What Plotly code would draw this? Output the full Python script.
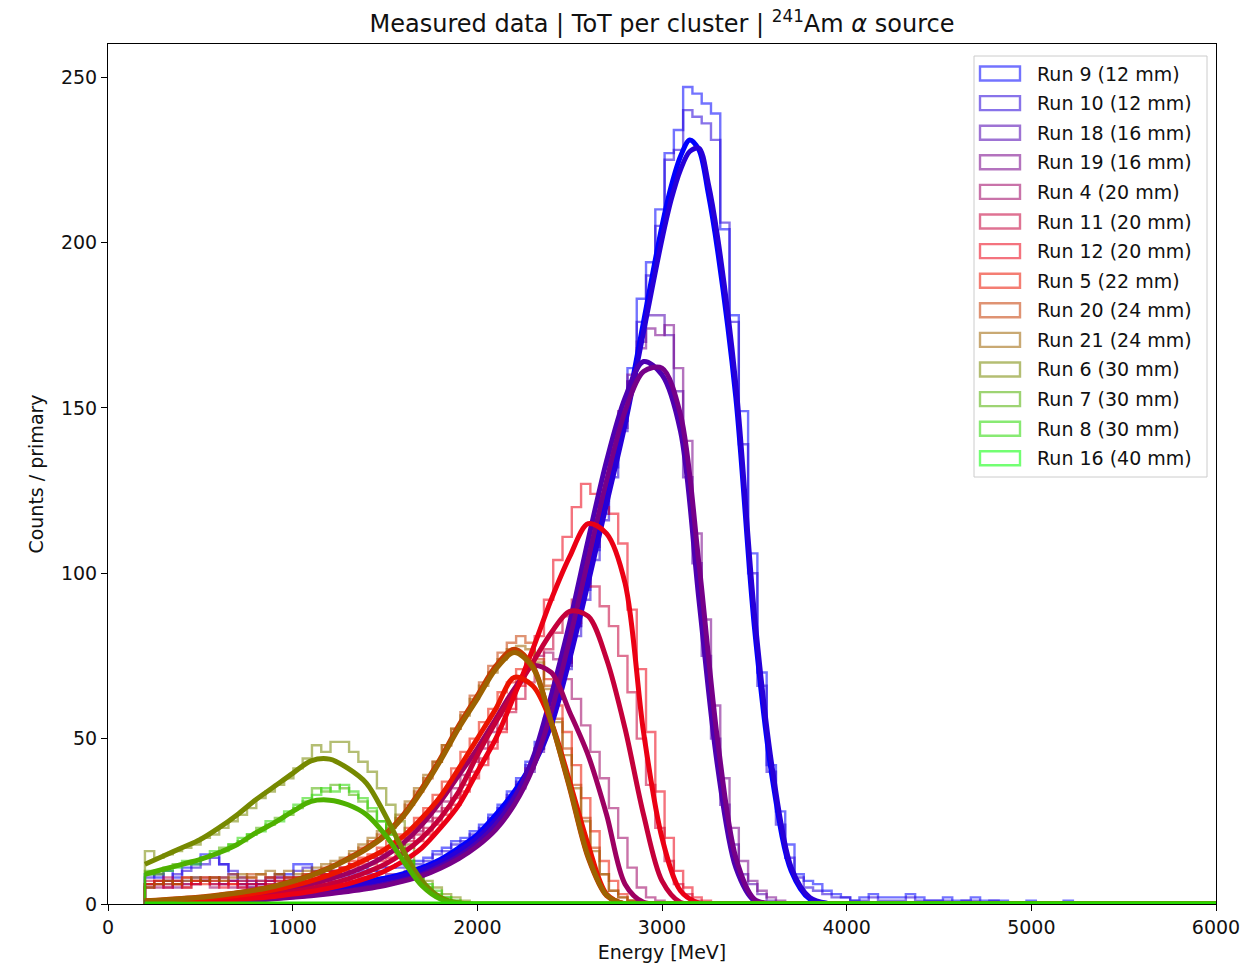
import numpy as np
import plotly.graph_objects as go

# ---------------- data ----------------
run_labels = ["Run 9 (12 mm)", "Run 10 (12 mm)", "Run 18 (16 mm)", "Run 19 (16 mm)",
              "Run 4 (20 mm)", "Run 11 (20 mm)", "Run 12 (20 mm)", "Run 5 (22 mm)",
              "Run 20 (24 mm)", "Run 21 (24 mm)", "Run 6 (30 mm)", "Run 7 (30 mm)",
              "Run 8 (30 mm)", "Run 16 (40 mm)"]

# histogram binning (MeV)
hist_first_edge = 200.0
hist_bin_width = 50.25
hist_n_bins = 100

# counts per bin, starting at the first edge (missing trailing bins are empty)
counts_run9 = [9, 8, 10, 8, 11, 12, 15, 15, 12, 9,
               7, 6, 7, 8, 8, 9, 12, 12, 10, 9,
               10, 9, 10, 11, 10, 11, 11, 12, 13, 13,
               14, 16, 17, 19, 20, 22, 24, 27, 30, 34,
               38, 43, 49, 56, 64, 73, 84, 95, 107, 118,
               132, 146, 162, 183, 194, 210, 227, 234, 247, 245,
               242, 239, 204, 178, 149, 106, 70, 42, 28, 18,
               9, 7, 6, 4, 3, 2, 1, 2, 3, 2,
               2, 2, 3, 2, 1, 1, 2, 1, 1, 2,
               1, 1, 1, 0, 0, 1, 0, 0, 0, 1]
counts_run10 = [8, 9, 7, 9, 10, 11, 12, 14, 12, 10,
                8, 7, 6, 7, 9, 8, 10, 11, 9, 10,
                9, 8, 9, 10, 9, 10, 11, 11, 12, 12,
                13, 15, 16, 18, 19, 21, 23, 26, 29, 33,
                37, 42, 47, 54, 62, 71, 81, 92, 104, 116,
                129, 143, 158, 176, 190, 205, 225, 228, 240, 238,
                236, 231, 206, 176, 139, 100, 66, 40, 24, 14,
                8, 5, 4, 3, 2, 2, 1, 1, 2, 1,
                1, 1, 2, 1, 1, 1, 1, 0, 1, 1,
                0, 1]
counts_run18 = [5, 6, 5, 7, 6, 8, 7, 6, 8, 7,
                6, 5, 6, 5, 6, 7, 6, 5, 6, 7,
                6, 7, 6, 7, 8, 7, 8, 8, 9, 10,
                11, 12, 13, 15, 17, 19, 21, 24, 27, 31,
                35, 40, 46, 53, 62, 72, 84, 96, 108, 122,
                136, 144, 158, 170, 178, 178, 172, 155, 129, 103,
                75, 50, 30, 18, 9, 6, 3, 1]
counts_run19 = [6, 7, 6, 5, 7, 6, 7, 8, 6, 7,
                5, 6, 5, 6, 7, 6, 6, 7, 6, 6,
                7, 6, 7, 8, 7, 8, 9, 8, 10, 10,
                11, 12, 14, 15, 17, 19, 22, 24, 28, 32,
                36, 41, 47, 54, 63, 73, 85, 97, 110, 124,
                137, 149, 160, 168, 174, 172, 175, 162, 140, 112,
                86, 60, 38, 23, 13, 7, 4, 2, 1]
counts_run4 = [6, 5, 7, 6, 5, 6, 7, 5, 6, 5,
               6, 5, 6, 7, 6, 7, 8, 8, 9, 9,
               10, 11, 12, 13, 14, 15, 17, 18, 20, 22,
               25, 28, 31, 35, 39, 43, 47, 52, 57, 62,
               67, 71, 75, 76, 74, 68, 62, 54, 46, 38,
               29, 20, 11, 5, 2, 1]
counts_run11 = [7, 6, 8, 7, 6, 7, 8, 7, 6, 7,
                6, 7, 6, 7, 8, 7, 8, 9, 9, 10,
                10, 11, 12, 13, 14, 15, 16, 18, 19, 21,
                23, 26, 29, 32, 36, 40, 44, 49, 53, 58,
                62, 67, 72, 77, 82, 87, 92, 96, 96, 90,
                84, 75, 64, 50, 36, 23, 13, 6, 3, 1]
counts_run12 = [6, 7, 5, 6, 8, 6, 7, 6, 5, 6,
                5, 6, 5, 6, 6, 7, 7, 8, 8, 9,
                9, 10, 11, 12, 12, 13, 14, 16, 17, 19,
                21, 24, 27, 30, 34, 38, 42, 47, 52, 59,
                66, 73, 81, 92, 104, 111, 120, 127, 124, 120,
                118, 109, 89, 71, 52, 34, 20, 10, 5, 2,
                1]
counts_run5 = [5, 6, 7, 6, 5, 7, 6, 8, 7, 6,
               7, 8, 7, 8, 7, 8, 7, 8, 9, 10,
               10, 11, 13, 14, 15, 17, 19, 21, 23, 26,
               29, 33, 37, 41, 46, 50, 55, 59, 64, 67,
               71, 73, 72, 68, 60, 52, 42, 32, 22, 13,
               7, 3, 1]
counts_run20 = [6, 7, 6, 7, 8, 7, 8, 7, 8, 9,
                8, 9, 9, 8, 9, 8, 8, 9, 10, 11,
                12, 13, 15, 17, 19, 21, 23, 26, 30, 34,
                38, 43, 48, 53, 58, 63, 67, 72, 76, 79,
                81, 79, 74, 66, 56, 47, 36, 26, 17, 9,
                4, 2, 1]
counts_run21 = [5, 6, 7, 6, 7, 8, 7, 8, 7, 8,
                9, 8, 9, 10, 9, 10, 9, 10, 11, 12,
                13, 14, 16, 18, 20, 22, 24, 27, 31, 35,
                39, 43, 48, 53, 57, 62, 66, 70, 74, 77,
                78, 77, 73, 65, 55, 45, 35, 25, 16, 9,
                4, 2, 1]
counts_run6 = [16, 14, 15, 16, 17, 18, 20, 21, 23, 25,
               27, 29, 32, 34, 36, 38, 41, 44, 48, 46,
               49, 49, 46, 43, 40, 35, 30, 25, 18, 11,
               7, 5, 3, 2, 1]
counts_run7 = [10, 9, 11, 12, 12, 13, 14, 15, 17, 18,
               19, 21, 23, 24, 26, 27, 29, 31, 35, 34,
               36, 35, 33, 31, 28, 25, 21, 17, 13, 8,
               5, 3, 2, 1]
counts_run8 = [9, 10, 10, 11, 13, 12, 14, 16, 16, 18,
               20, 21, 22, 25, 25, 28, 30, 32, 33, 35,
               34, 36, 34, 32, 29, 25, 21, 17, 13, 9,
               6, 4, 2, 1]
counts_run16 = [0]

# fitted curves, sampled at these energies (MeV)
fit_energy = [200, 300, 400, 500, 600, 700, 800, 900, 1000, 1100,
              1200, 1300, 1400, 1500, 1600, 1700, 1800, 1900, 2000, 2100,
              2200, 2300, 2400, 2500, 2600, 2700, 2800, 2900, 3000, 3100,
              3200, 3300, 3400, 3500, 3600, 3700, 3800, 3900, 4000, 6000]
# the 12 mm fits are sampled more finely around their peak
fit_energy_12mm = [200, 300, 400, 500, 600, 700, 800, 900, 1000, 1100,
                   1200, 1300, 1400, 1500, 1600, 1700, 1800, 1900, 2000, 2100,
                   2200, 2300, 2400, 2500, 2600, 2700, 2800, 2900, 3000, 3050,
                   3100, 3150, 3200, 3250, 3300, 3400, 3500, 3600, 3700, 3800,
                   3900, 4000, 6000]
fit_run9 = [0.5, 0.7, 0.9, 1.1, 1.4, 1.8, 2.2, 2.7, 3.3, 4.0,
            4.8, 5.7, 6.7, 7.8, 9.2, 11, 13.5, 17, 21, 27,
            34, 43, 56, 77, 100, 123, 147, 176, 205, 217,
            226, 231, 228, 215, 198, 153, 84, 37, 10, 1.5,
            0.1, 0, 0]
fit_run10 = [0.4, 0.6, 0.8, 1.0, 1.3, 1.6, 2.0, 2.5, 3.0, 3.7,
             4.4, 5.3, 6.2, 7.3, 8.6, 10.3, 12.7, 16, 20, 25.5,
             32.5, 41.5, 54, 74, 97, 121, 145, 173, 201, 213,
             222, 227.5, 228.5, 218, 202, 157, 88, 40, 11, 2,
             0.2, 0, 0]
fit_run18 = [0.3, 0.4, 0.5, 0.6, 0.8, 1.0, 1.3, 1.7, 2.2, 2.7,
             3.3, 4.0, 4.9, 6.0, 7.3, 9.0, 11.5, 14.5, 18.5, 24,
             32, 44, 63, 85, 110, 134, 153, 164, 160, 143,
             92, 42, 11, 1, 0, 0, 0, 0, 0, 0]
fit_run19 = [0.3, 0.4, 0.5, 0.6, 0.7, 0.9, 1.2, 1.6, 2.0, 2.5,
             3.1, 3.8, 4.6, 5.6, 6.9, 8.5, 10.8, 13.7, 17.5, 22.5,
             30, 41, 58, 80, 104, 128, 149, 161, 162, 148,
             103, 50, 14, 1.5, 0, 0, 0, 0, 0, 0]
fit_run4 = [0.6, 0.8, 1.0, 1.3, 1.7, 2.2, 2.9, 3.8, 4.8, 6.0,
            7.5, 9.3, 11.5, 14.5, 18.5, 24, 31, 39, 47, 56,
            65, 72, 70, 58, 45, 27, 6, 0.5, 0, 0,
            0, 0, 0, 0, 0, 0, 0, 0, 0, 0]
fit_run11 = [0.5, 0.6, 0.8, 1.0, 1.3, 1.7, 2.2, 2.9, 3.7, 4.7,
             6.0, 7.6, 9.6, 12, 15.5, 20, 26, 34, 45, 55,
             64, 73, 82, 88.5, 87, 74, 53, 27, 7, 0.5,
             0, 0, 0, 0, 0, 0, 0, 0, 0, 0]
fit_run12 = [0.4, 0.5, 0.7, 0.9, 1.1, 1.4, 1.8, 2.3, 3.0, 3.8,
             4.8, 6.1, 7.8, 10, 13, 17, 23, 30, 40, 50,
             63, 77, 92, 105, 115, 112, 97, 52, 20, 4,
             0.3, 0, 0, 0, 0, 0, 0, 0, 0, 0]
fit_run5 = [0.7, 0.9, 1.2, 1.5, 2.0, 2.6, 3.3, 4.3, 5.5, 7.0,
            8.8, 11, 13.5, 16.5, 20.5, 26, 32.5, 41, 50, 59,
            68.5, 66, 55, 37, 18, 3, 0, 0, 0, 0,
            0, 0, 0, 0, 0, 0, 0, 0, 0, 0]
fit_run20 = [1.0, 1.3, 1.7, 2.1, 2.7, 3.4, 4.3, 5.5, 7.0, 8.8,
             11, 13.8, 17, 21, 27, 35, 44, 54, 63, 72,
             77, 72, 55, 35, 14, 2.5, 0, 0, 0, 0,
             0, 0, 0, 0, 0, 0, 0, 0, 0, 0]
fit_run21 = [0.9, 1.2, 1.6, 2.0, 2.6, 3.3, 4.2, 5.3, 6.8, 8.6,
             10.8, 13.5, 16.6, 20.6, 26.5, 34.3, 43.3, 53.2, 62, 71,
             76, 71.5, 55, 35.5, 14.5, 2.7, 0, 0, 0, 0,
             0, 0, 0, 0, 0, 0, 0, 0, 0, 0]
fit_run6 = [12, 14.5, 17, 19.5, 23, 27, 31.5, 35.5, 39.5, 43.3,
            43.8, 41, 36.5, 27, 16, 7, 2, 0.3, 0, 0,
            0, 0, 0, 0, 0, 0, 0, 0, 0, 0,
            0, 0, 0, 0, 0, 0, 0, 0, 0, 0]
fit_run7 = [9, 10.5, 12, 13.5, 15.5, 18, 21.5, 24.5, 28, 31,
            31.4, 30, 27, 21, 13, 5.5, 1.5, 0.2, 0, 0,
            0, 0, 0, 0, 0, 0, 0, 0, 0, 0,
            0, 0, 0, 0, 0, 0, 0, 0, 0, 0]
fit_run8_energy = [200, 6000]
fit_run8 = [0, 0]

# ---------------- styles ----------------
run_rgb = [(0, 0, 255), (39, 0, 216), (78, 0, 177), (118, 0, 137), (157, 0, 98),
           (196, 0, 59), (235, 0, 20), (235, 20, 0), (196, 59, 0), (157, 98, 0),
           (118, 137, 0), (78, 177, 0), (39, 216, 0), (0, 255, 0)]
hist_alpha = 0.55
FONT = "DejaVu Sans"

hist_counts = [counts_run9, counts_run10, counts_run18, counts_run19, counts_run4,
               counts_run11, counts_run12, counts_run5, counts_run20, counts_run21,
               counts_run6, counts_run7, counts_run8, counts_run16]
fit_curves = [(0, fit_energy_12mm, fit_run9), (1, fit_energy_12mm, fit_run10),
              (2, fit_energy, fit_run18), (3, fit_energy, fit_run19),
              (4, fit_energy, fit_run4), (5, fit_energy, fit_run11),
              (6, fit_energy, fit_run12), (7, fit_energy, fit_run5),
              (8, fit_energy, fit_run20), (9, fit_energy, fit_run21),
              (10, fit_energy, fit_run6), (11, fit_energy, fit_run7),
              (12, fit_run8_energy, fit_run8)]

edges = hist_first_edge + hist_bin_width * np.arange(hist_n_bins + 1)


def rgba(c, a):
    return f"rgba({c[0]},{c[1]},{c[2]},{a})"


fig = go.Figure()

for i, counts in enumerate(hist_counts):
    c = list(counts) + [0] * (hist_n_bins - len(counts))
    x = [edges[0]] + list(edges[:-1]) + [edges[-1]]
    y = [0] + c + [0]
    fig.add_trace(go.Scatter(x=x, y=y, mode="lines", name=run_labels[i],
                             line=dict(color=rgba(run_rgb[i], hist_alpha), width=2.4, shape="hv"),
                             showlegend=False, hoverinfo="skip"))

for idx, ex, ey in fit_curves:
    fig.add_trace(go.Scatter(x=ex, y=ey, mode="lines",
                             line=dict(color=rgba(run_rgb[idx], 1), width=5,
                                       shape="spline", smoothing=0.9),
                             showlegend=False, hoverinfo="skip"))

# ---------------- layout ----------------
# the page adds an 8 px body margin, so the figure is a little smaller than the window
OFF = 8
W, H = 1250, 958
ml, mr, mt, mb = 100, 42, 36, 62
pw, ph = W - ml - mr, H - mt - mb


def px2paper_x(px):
    return (px - OFF - ml) / pw


def px2paper_y(py):
    return (H - mb - (py - OFF)) / ph


shapes = []
annotations = []
# legend frame
shapes.append(dict(type="rect", xref="paper", yref="paper",
                   x0=px2paper_x(974), x1=px2paper_x(1207),
                   y0=px2paper_y(477), y1=px2paper_y(56),
                   line=dict(color="rgba(204,204,204,1)", width=1),
                   fillcolor="rgba(255,255,255,0.8)", layer="above"))
for i, lab in enumerate(run_labels):
    cy = 73.5 + 29.6 * i
    shapes.append(dict(type="rect", xref="paper", yref="paper",
                       x0=px2paper_x(980), x1=px2paper_x(1020),
                       y0=px2paper_y(cy + 7), y1=px2paper_y(cy - 7),
                       line=dict(color=rgba(run_rgb[i], hist_alpha), width=2.4),
                       fillcolor="rgba(0,0,0,0)", layer="above"))
    annotations.append(dict(xref="paper", yref="paper", x=px2paper_x(1035), y=px2paper_y(cy),
                            text=lab, showarrow=False, xanchor="left", yanchor="middle",
                            font=dict(family=FONT, size=19, color="#111")))

fig.update_layout(
    width=W, height=H,
    margin=dict(l=ml, r=mr, t=mt, b=mb, autoexpand=False),
    paper_bgcolor="white", plot_bgcolor="white",
    font=dict(family=FONT, size=19, color="#111"),
    title=dict(text="Measured data | ToT per cluster | <sup>241</sup>Am <i>α</i> source",
               x=(ml + pw / 2) / W, xanchor="center", y=1 - 16 / H, yanchor="middle",
               yref="container", font=dict(family=FONT, size=24, color="#111")),
    xaxis=dict(range=[0, 6000], tickmode="array", tickvals=[0, 1000, 2000, 3000, 4000, 5000, 6000],
               ticks="outside", ticklen=6, tickwidth=1, tickcolor="black",
               showline=True, linecolor="black", linewidth=1, mirror=True,
               showgrid=False, zeroline=False, automargin=False,
               title=dict(text="Energy [MeV]", standoff=8, font=dict(family=FONT, size=19))),
    yaxis=dict(range=[0, 260], tickmode="array", tickvals=[0, 50, 100, 150, 200, 250],
               ticks="outside", ticklen=6, tickwidth=1, tickcolor="black",
               showline=True, linecolor="black", linewidth=1, mirror=True,
               showgrid=False, zeroline=False, automargin=False,
               title=dict(text="Counts / primary", standoff=12, font=dict(family=FONT, size=19))),
    shapes=shapes, annotations=annotations,
    showlegend=False,
)

fig.write_html("out.html")
